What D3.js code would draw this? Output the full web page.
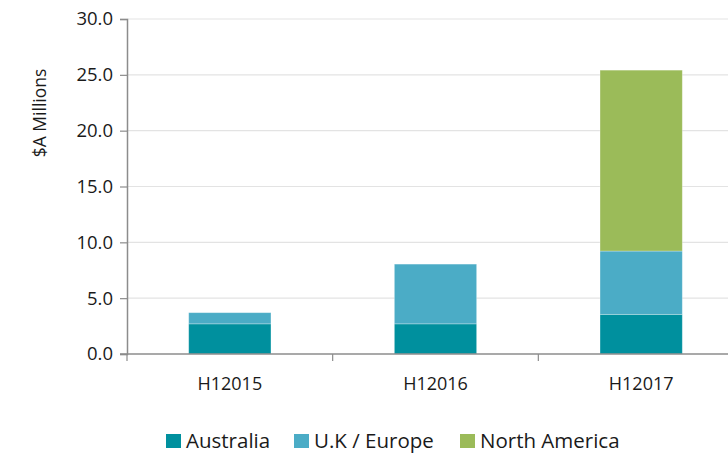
<!DOCTYPE html>
<html>
<head>
<meta charset="utf-8">
<script src="https://cdn.jsdelivr.net/npm/d3@7"></script>
<style>
  html, body { margin: 0; padding: 0; background: #fff; overflow: hidden; }
  text { font-family: "Open Sans", "Noto Sans", sans-serif; fill: #1a1a1a; }
</style>
</head>
<body>
<svg id="chart" width="728" height="454"></svg>
<script>
// Half-year revenue by region ($A millions)
const periods = ["H12015", "H12016", "H12017"];
const australia = [2.7, 2.7, 3.55];
const ukEurope = [1.0, 5.35, 5.67];
const northAmerica = [0, 0, 16.2];
const seriesNames = ["Australia", "U.K / Europe", "North America"];
const seriesColors = ["#00909E", "#4BACC6", "#9BBB59"];
const yTicks = [0, 5, 10, 15, 20, 25, 30];

const rows = periods.map((p, i) => ({
  period: p,
  "Australia": australia[i],
  "U.K / Europe": ukEurope[i],
  "North America": northAmerica[i]
}));

const svg = d3.select("#chart");
const W = 728, H = 454;
const plotLeft = 127, plotRight = 744, plotTop = 19, plotBottom = 354;

const x = d3.scaleBand().domain(periods).range([plotLeft, plotRight]).paddingInner(0.6).paddingOuter(0.3);
const y = d3.scaleLinear().domain([0, 30]).range([plotBottom, plotTop]);

// gridlines
svg.append("g").selectAll("line").data(yTicks.slice(1)).join("line")
  .attr("x1", plotLeft).attr("x2", plotRight)
  .attr("y1", d => y(d)).attr("y2", d => y(d))
  .attr("stroke", "#E3E3E3").attr("stroke-width", 1.2);

// stacked bars
const stack = d3.stack().keys(seriesNames)(rows);
svg.append("g").selectAll("g").data(stack).join("g")
  .attr("fill", (d, i) => seriesColors[i])
  .selectAll("rect").data(d => d.filter(s => s[1] - s[0] > 0)).join("rect")
  .attr("x", d => x(d.data.period))
  .attr("width", x.bandwidth())
  .attr("y", d => y(d[1]))
  .attr("height", d => y(d[0]) - y(d[1]))
  .attr("stroke", "rgba(255,255,255,0.35)").attr("stroke-width", 0.8);

// y axis
const yAxis = svg.append("g").attr("transform", `translate(${plotLeft},0)`)
  .call(d3.axisLeft(y).tickValues(yTicks).tickFormat(d3.format(".1f")).tickSize(7).tickPadding(7));
yAxis.select(".domain").attr("stroke", "#8C8C8C").attr("stroke-width", 1.5);
yAxis.selectAll(".tick line").attr("stroke", "#8C8C8C").attr("stroke-width", 1.2);
yAxis.selectAll(".tick text").attr("font-size", 18.5)
  .attr("font-family", "\"Open Sans\", sans-serif").attr("fill", "#1a1a1a");

// x axis with boundary ticks between categories
const xAxisY = y(0);
const xg = svg.append("g");
xg.append("line").attr("x1", plotLeft - 7).attr("x2", plotRight)
  .attr("y1", xAxisY).attr("y2", xAxisY).attr("stroke", "#8C8C8C").attr("stroke-width", 1.5);
const bounds = periods.map((p, i) => plotLeft + i * x.step());
bounds.push(plotRight);
xg.selectAll(".xt").data(bounds).join("line")
  .attr("x1", d => d).attr("x2", d => d)
  .attr("y1", xAxisY).attr("y2", xAxisY + 7)
  .attr("stroke", "#8C8C8C").attr("stroke-width", 1.2);
xg.selectAll("text").data(periods).join("text")
  .attr("x", d => x(d) + x.bandwidth() / 2)
  .attr("y", 390)
  .attr("text-anchor", "middle").attr("font-size", 18)
  .text(d => d);

// y axis title
svg.append("text")
  .attr("transform", `translate(46,113) rotate(-90)`)
  .attr("text-anchor", "middle").attr("font-size", 17.5)
  .text("$A Millions");

// legend
const legendX = [166, 294, 460];
const lg = svg.append("g").selectAll("g").data(seriesNames).join("g")
  .attr("transform", (d, i) => `translate(${legendX[i]},434)`);
lg.append("rect").attr("width", 15).attr("height", 14).attr("fill", (d, i) => seriesColors[i]);
lg.append("text").attr("x", 20).attr("y", 14).attr("font-size", 20.5).text(d => d);
</script>
</body>
</html>
